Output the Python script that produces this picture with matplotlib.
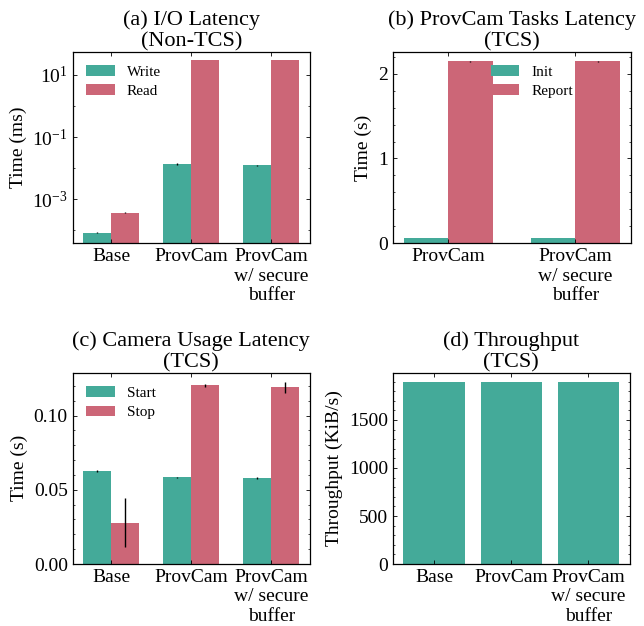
import numpy as np
import matplotlib
matplotlib.use('Agg')
import matplotlib.pyplot as plt
from matplotlib.ticker import AutoMinorLocator, FixedLocator, NullFormatter, LogFormatterSciNotation, NullLocator

# ---------------- data ----------------
groups3 = ['Base', 'ProvCam', 'ProvCam\nw/ secure\nbuffer']
groups2 = ['ProvCam', 'ProvCam\nw/ secure\nbuffer']

io_write = [8.5e-5, 0.0135, 0.0126]
io_write_err = [0.5e-5, 0.0010, 0.0004]
io_read = [3.7e-4, 30.0, 30.0]
io_read_err = [0.1e-4, 0.6, 0.6]
io_major_ticks = [1e-3, 1e-1, 1e1]
io_minor_ticks = [1e-4, 1e-2, 1e0]

task_init = [0.062, 0.062]
task_init_err = [0.002, 0.002]
task_report = [2.147, 2.147]
task_report_err = [0.004, 0.004]

cam_start = [0.0626, 0.0585, 0.0579]
cam_start_err = [0.0004, 0.0004, 0.0004]
cam_stop = [0.0278, 0.1203, 0.1191]
cam_stop_err = [0.0164, 0.0010, 0.0036]

throughput = [1897, 1897, 1897]

# ---------------- style ----------------
plt.rcParams.update({
    'font.family': 'serif',
    'font.serif': ['Liberation Serif', 'DejaVu Serif'],
    'mathtext.fontset': 'stix',
    'axes.linewidth': 0.9,
    'xtick.direction': 'in',
    'ytick.direction': 'in',
    'xtick.top': True,
    'ytick.right': True,
    'xtick.major.size': 3,
    'ytick.major.size': 3,
    'ytick.minor.size': 1.5,
    'xtick.major.width': 0.6,
    'ytick.major.width': 0.6,
    'ytick.minor.width': 0.5,
    'legend.frameon': False,
})

TEAL = '#44AA99'
ROSE = '#CC6677'
TITLE_FS = 16
LABEL_FS = 14
TICK_FS = 14
LEG_FS = 11
W = 0.35
err_kw = dict(ecolor='black', elinewidth=1.0, capsize=0)
leg_kw = dict(fontsize=LEG_FS, labelspacing=0.35, handlelength=1.85)

fig = plt.figure(figsize=(6.44, 6.26), dpi=100)
axa = fig.add_axes([0.1129, 0.6113, 0.3685, 0.3061])
axb = fig.add_axes([0.6098, 0.6113, 0.3696, 0.3061])
axc = fig.add_axes([0.1129, 0.0990, 0.3685, 0.3056])
axd = fig.add_axes([0.6098, 0.0990, 0.3685, 0.3056])

# (a)
x3 = np.arange(len(groups3))
axa.bar(x3 - W/2, io_write, W, yerr=io_write_err, color=TEAL, label='Write', error_kw=err_kw)
axa.bar(x3 + W/2, io_read, W, yerr=io_read_err, color=ROSE, label='Read', error_kw=err_kw)
axa.set_yscale('log')
axa.set_ylim(3.85e-5, 56)
axa.yaxis.set_major_locator(FixedLocator(io_major_ticks))
axa.yaxis.set_major_formatter(LogFormatterSciNotation())
axa.yaxis.set_minor_locator(FixedLocator(io_minor_ticks))
axa.yaxis.set_minor_formatter(NullFormatter())
axa.set_xticks(x3)
axa.set_xticklabels(groups3)
axa.set_ylabel('Time (ms)', fontsize=LABEL_FS)
axa.set_title('(a) I/O Latency\n(Non-TCS)', fontsize=TITLE_FS, pad=3)
axa.legend(loc='upper left', **leg_kw)

# (b)
x2 = np.arange(len(groups2))
axb.bar(x2 - W/2, task_init, W, yerr=task_init_err, color=TEAL, label='Init', error_kw=err_kw)
axb.bar(x2 + W/2, task_report, W, yerr=task_report_err, color=ROSE, label='Report', error_kw=err_kw)
axb.set_xticks(x2)
axb.set_xticklabels(groups2)
axb.set_ylabel('Time (s)', fontsize=LABEL_FS)
axb.set_title('(b) ProvCam Tasks Latency\n(TCS)', fontsize=TITLE_FS, pad=3)
axb.legend(loc='upper center', bbox_to_anchor=(0.584, 1.0), **leg_kw)
axb.yaxis.set_minor_locator(AutoMinorLocator())

# (c)
axc.bar(x3 - W/2, cam_start, W, yerr=cam_start_err, color=TEAL, label='Start', error_kw=err_kw)
axc.bar(x3 + W/2, cam_stop, W, yerr=cam_stop_err, color=ROSE, label='Stop', error_kw=err_kw)
axc.set_xticks(x3)
axc.set_xticklabels(groups3)
axc.set_ylabel('Time (s)', fontsize=LABEL_FS)
axc.set_title('(c) Camera Usage Latency\n(TCS)', fontsize=TITLE_FS, pad=3)
axc.legend(loc='upper left', **leg_kw)
axc.yaxis.set_minor_locator(AutoMinorLocator())

# (d)
axd.bar(x3, throughput, 0.8, color=TEAL)
axd.set_xticks(x3)
axd.set_xticklabels(groups3)
axd.set_ylabel('Throughput (KiB/s)', fontsize=LABEL_FS)
axd.set_title('(d) Throughput\n(TCS)', fontsize=TITLE_FS, pad=3)
axd.yaxis.set_minor_locator(AutoMinorLocator())

for ax in (axa, axb, axc, axd):
    ax.tick_params(axis='both', which='major', labelsize=TICK_FS)
    ax.xaxis.set_minor_locator(NullLocator())

fig.savefig('out.png', dpi=100)
